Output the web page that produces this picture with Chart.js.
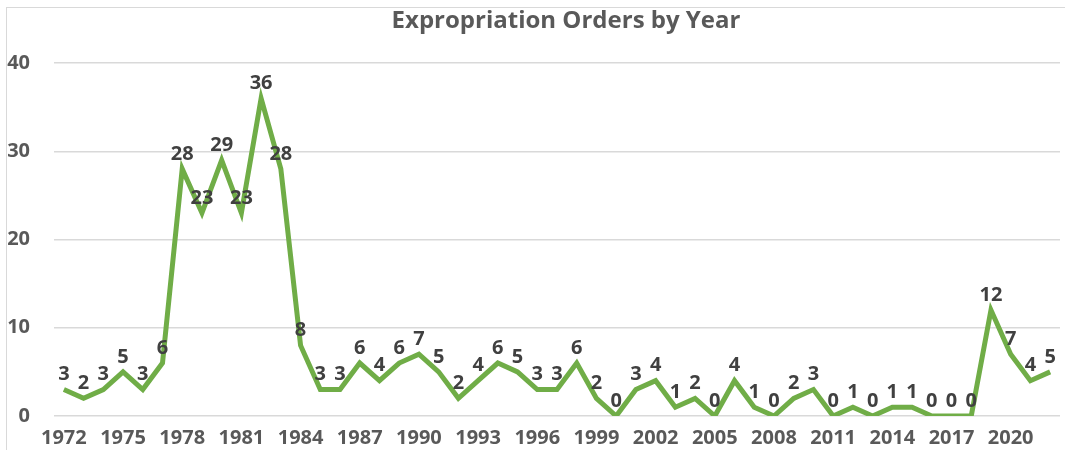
<!DOCTYPE html>
<html>
<head>
<meta charset="utf-8">
<script src="https://cdn.jsdelivr.net/npm/chart.js@4"></script>
<style>
  html, body { margin: 0; padding: 0; background: #fff; overflow: hidden; }
  #wrap { position: absolute; left: 0; top: 0; width: 1065px; height: 450px; }
  #frame { position: absolute; left: 6px; top: 7px; width: 1070px; height: 460px; border: 1px solid #d9d9d9; box-sizing: border-box; }
</style>
</head>
<body>
<div id="frame"></div>
<div id="wrap"><canvas id="myChart" width="1065" height="450"></canvas></div>
<script>
const years = [
  '1972', '1973', '1974', '1975', '1976', '1977', '1978', '1979', '1980', '1981',
  '1982', '1983', '1984', '1985', '1986', '1987', '1988', '1989', '1990', '1991',
  '1992', '1993', '1994', '1995', '1996', '1997', '1998', '1999', '2000', '2001',
  '2002', '2003', '2004', '2005', '2006', '2007', '2008', '2009', '2010', '2011',
  '2012', '2013', '2014', '2015', '2016', '2017', '2018', '2019', '2020', '2021',
  '2022',
]
const orders = [
  3, 2, 3, 5, 3, 6, 28, 23, 29, 23,
  36, 28, 8, 3, 3, 6, 4, 6, 7, 5,
  2, 4, 6, 5, 3, 3, 6, 2, 0, 3,
  4, 1, 2, 0, 4, 1, 0, 2, 3, 0,
  1, 0, 1, 1, 0, 0, 0, 12, 7, 4,
  5,
]
const yTicks = [0, 10, 20, 30, 40]
const titleText = 'Expropriation Orders by Year'

const fontFamily = "'Open Sans', 'Liberation Sans', sans-serif"

/**
 * Titre centré sur la zone du graphique + étiquettes de valeur au-dessus des points.
 */
const valueLabels = {
  id: 'valueLabels',
  afterDatasetsDraw(chart) {
    const ctx = chart.ctx
    const meta = chart.getDatasetMeta(0)
    ctx.save()
    ctx.font = `bold 24px ${fontFamily}`
    ctx.fillStyle = '#595959'
    ctx.textAlign = 'center'
    ctx.textBaseline = 'middle'
    ctx.fillText(titleText, 566, 21)

    ctx.font = `bold 20px ${fontFamily}`
    ctx.fillStyle = '#404040'
    meta.data.forEach((pt, i) => {
      ctx.fillText(String(chart.data.datasets[0].data[i]), pt.x, pt.y - 15)
    })
    ctx.restore()
  },
}

const chart = new Chart(document.querySelector('#myChart'), {
  type: 'line',
  data: {
    labels: years,
    datasets: [{
      data: orders,
      borderColor: '#70AD47',
      borderWidth: 5,
      pointRadius: 0,
      tension: 0,
      fill: false,
    }],
  },
  options: {
    responsive: false,
    animation: false,
    layout: { padding: { left: 0, right: 5, top: 63, bottom: 0 } },
    plugins: {
      legend: { display: false },
      tooltip: { enabled: false },
      title: { display: false },
    },
    scales: {
      x: {
        offset: true,
        afterFit: (scale) => { scale.height = 34 },
        grid: { display: false, drawTicks: false },
        border: { display: false },
        ticks: {
          autoSkip: false,
          maxRotation: 0,
          minRotation: 0,
          padding: 10,
          color: '#595959',
          font: { family: fontFamily, size: 20, weight: 'bold' },
          callback: (v, i) => (i % 3 === 0 ? years[i] : ''),
        },
      },
      y: {
        min: yTicks[0],
        max: yTicks[yTicks.length - 1],
        afterFit: (scale) => {
          scale.width = 54
          scale.paddingTop = 0
          scale.paddingBottom = 0
        },
        afterBuildTicks: (scale) => { scale.ticks = yTicks.map((v) => ({ value: v })) },
        grid: { color: '#d9d9d9', lineWidth: 1.5, drawTicks: false },
        border: { display: false },
        ticks: {
          padding: 24,
          color: '#595959',
          font: { family: fontFamily, size: 20, weight: 'bold' },
        },
      },
    },
  },
  plugins: [valueLabels],
})
</script>
</body>
</html>
